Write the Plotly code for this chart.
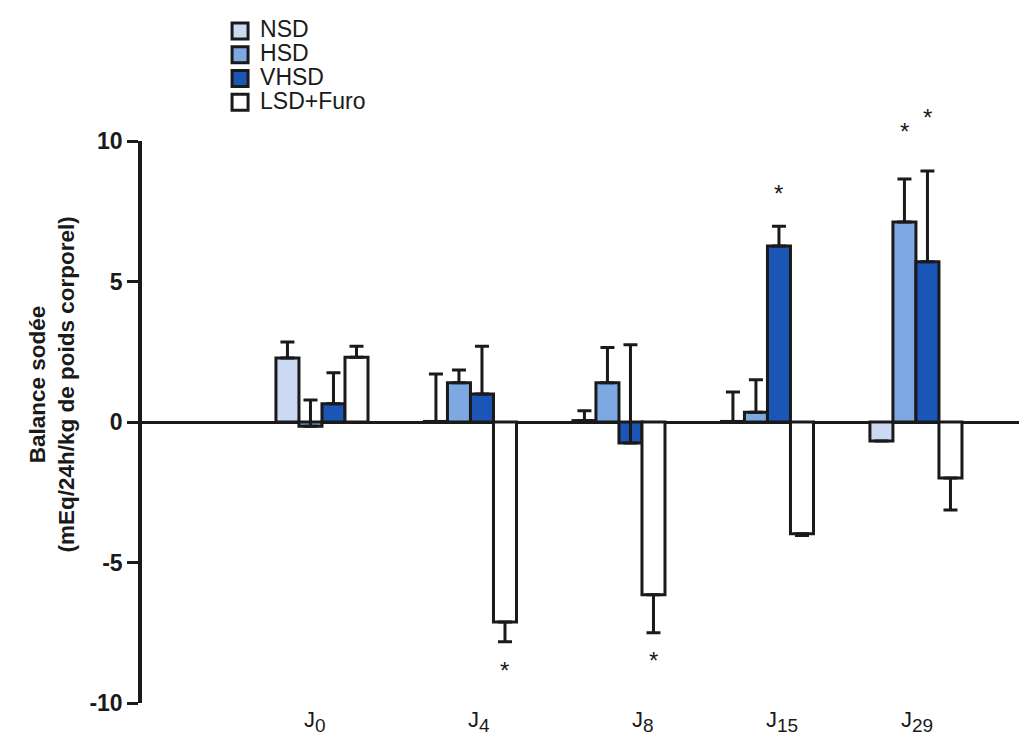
import plotly.graph_objects as go

# ---- data ----
days = ["J<sub>0</sub>", "J<sub>4</sub>", "J<sub>8</sub>", "J<sub>15</sub>", "J<sub>29</sub>"]
day_subs = ["0", "4", "8", "15", "29"]
series_names = ["NSD", "HSD", "VHSD", "LSD+Furo"]
series_colors = ["#cbdaf2", "#7ea8e2", "#1b55b6", "#ffffff"]

nsd = [2.28, 0.02, 0.05, 0.02, -0.68]
hsd = [-0.15, 1.40, 1.40, 0.35, 7.12]
vhsd = [0.65, 1.00, -0.75, 6.26, 5.70]
lsd = [2.30, -7.12, -6.15, -3.98, -1.99]

nsd_err_up = [0.57, 1.69, 0.35, 1.05, 0.0]
nsd_err_dn = [0.0, 0.0, 0.0, 0.0, 0.0]
hsd_err_up = [0.93, 0.45, 1.25, 1.15, 1.53]
hsd_err_dn = [0.0, 0.0, 0.0, 0.0, 0.0]
vhsd_err_up = [1.10, 1.70, 3.50, 0.71, 3.23]
vhsd_err_dn = [0.0, 0.0, 0.0, 0.0, 0.0]
lsd_err_up = [0.40, 0.0, 0.0, 0.0, 0.0]
lsd_err_dn = [0.0, 0.70, 1.35, 0.06, 1.14]

# significance stars: (day index, series index, y)
star_day = [1, 2, 3, 4, 4]
star_series = [3, 3, 2, 1, 2]
star_y = [-8.83, -8.50, 8.12, 10.35, 10.82]

y_ticks = [10, 5, 0, -5, -10]
Y_MIN, Y_MAX = -10, 10

values = [nsd, hsd, vhsd, lsd]
err_up = [nsd_err_up, hsd_err_up, vhsd_err_up, lsd_err_up]
err_dn = [nsd_err_dn, hsd_err_dn, vhsd_err_dn, lsd_err_dn]

INK = "#1a1a1a"
FONT = "Liberation Sans, Arial, sans-serif"
BAR_W = 0.155
x_pos = list(range(len(days)))
label_xshift = [-7, 9, 24, 15, 1]

fig = go.Figure()
for k, name in enumerate(series_names):
    fig.add_trace(go.Bar(
        x=x_pos, y=values[k], name=name, width=BAR_W,
        offset=(k - 2) * BAR_W, showlegend=False, legendgroup=name,
        marker=dict(color=series_colors[k], line=dict(color=INK, width=3)),
        error_y=dict(type="data", symmetric=False, array=err_up[k],
                     arrayminus=err_dn[k], color=INK, thickness=3, width=7),
    ))
# legend entries (larger square swatches)
for k, name in enumerate(series_names):
    fig.add_trace(go.Scatter(
        x=[None], y=[None], mode="markers", legendgroup=name,
        name="<span style='font-size:23px'>" + name + "</span>",
        marker=dict(symbol="square", size=16, color=series_colors[k],
                    line=dict(color=INK, width=3)),
    ))

for i in range(len(star_day)):
    fig.add_annotation(
        x=star_day[i] + (star_series[i] - 1.5) * BAR_W,
        y=(star_y[i] - Y_MIN) / (Y_MAX - Y_MIN),
        xref="x", yref="paper", text="*", showarrow=False,
        xanchor="center", yanchor="middle",
        font=dict(size=24, color=INK, family=FONT),
    )

for i, d in enumerate(days):
    fig.add_annotation(
        x=x_pos[i], y=0, xref="x", yref="paper", yanchor="top",
        text="J<sub><span style='font-size:19px'>" + day_subs[i] + "</span></sub>",
        showarrow=False, xshift=label_xshift[i], yshift=-2,
        font=dict(size=22, color=INK, family=FONT),
    )

fig.add_annotation(
    text="<b>Balance sodée</b><br><b>(mEq/24h/kg de poids corporel)</b>",
    xref="paper", yref="paper", x=-0.103, y=0.566, textangle=-90,
    showarrow=False, font=dict(size=22.5, color=INK, family=FONT),
    xanchor="center", yanchor="middle",
)

fig.update_layout(
    width=1019, height=734,
    margin=dict(l=142, r=0, t=141, b=31),
    paper_bgcolor="white", plot_bgcolor="white",
    barmode="overlay",
    font=dict(family=FONT, color=INK),
    showlegend=True,
    legend=dict(x=0.089, y=1.226, xanchor="left", yanchor="top",
                font=dict(size=16, color=INK, family=FONT),
                tracegroupgap=0, bgcolor="rgba(0,0,0,0)", itemsizing="trace"),
    xaxis=dict(range=[-1.212, 4.694], tickvals=x_pos, ticktext=days,
               showticklabels=False,
               showline=False, showgrid=False, zeroline=False, ticks=""),
    yaxis=dict(range=[Y_MIN, Y_MAX], tickvals=y_ticks, ticktext=[str(v) for v in y_ticks],
               showline=True, linecolor=INK, linewidth=3.5, ticks="outside",
               ticklen=11, tickwidth=3, tickcolor=INK, showgrid=False,
               zeroline=True, zerolinecolor=INK, zerolinewidth=3,
               tickfont=dict(size=23, color=INK, family=FONT, weight="bold")),
)

fig.write_html("out.html", config={"displayModeBar": False},
               post_script="document.body.style.margin='0';")
